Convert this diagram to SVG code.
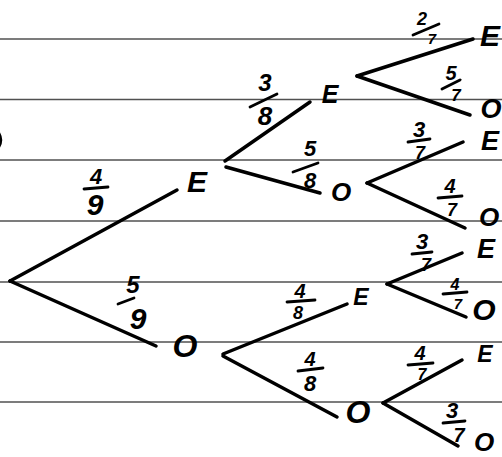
<svg xmlns="http://www.w3.org/2000/svg" width="502" height="457" viewBox="0 0 502 457">
<style>
.rule{stroke:#505050;stroke-width:1.3;fill:none}
.br{stroke:#000;stroke-width:3.5;stroke-linecap:round;fill:none}
.bar{stroke:#000;stroke-width:2.8;stroke-linecap:round;fill:none}
.n{font-family:"Liberation Sans",Arial,sans-serif;font-weight:bold;font-style:italic;fill:#000;text-anchor:middle}
.lb{font-family:"Liberation Sans",Arial,sans-serif;font-weight:bold;font-style:italic;fill:#000;text-anchor:middle}
</style>
<rect width="502" height="457" fill="#fff"/>
<g id="paper">
<line class="rule" x1="0" y1="39" x2="502" y2="39"/>
<line class="rule" x1="0" y1="99.5" x2="502" y2="99.5"/>
<line class="rule" x1="0" y1="160" x2="502" y2="160"/>
<line class="rule" x1="0" y1="221" x2="502" y2="221"/>
<line class="rule" x1="0" y1="282" x2="502" y2="282"/>
<line class="rule" x1="0" y1="342" x2="502" y2="342"/>
<line class="rule" x1="0" y1="402" x2="502" y2="402"/>
<path d="M-1,133 Q3,140 -1,147" stroke="#000" stroke-width="2.5" fill="none"/>
</g>
<g id="connectors">
<g id="e-root-E"><line class="br" x1="10" y1="281" x2="177" y2="190"/>
<text class="lb" x="96" y="184" font-size="22">4</text><line class="bar" x1="84" y1="189" x2="108" y2="187"/><text class="lb" x="95" y="215" font-size="30">9</text></g>
<g id="e-root-O"><line class="br" x1="10" y1="281" x2="156" y2="346"/>
<text class="lb" x="133" y="293" font-size="24">5</text><line class="bar" x1="118" y1="304" x2="134" y2="298"/><text class="lb" x="138" y="329" font-size="30">9</text></g>
<g id="e-E-EE"><line class="br" x1="225" y1="161" x2="310" y2="102"/>
<text class="lb" x="265" y="91" font-size="24">3</text><line class="bar" x1="250" y1="107" x2="277" y2="94"/><text class="lb" x="265" y="125" font-size="26">8</text></g>
<g id="e-E-EO"><line class="br" x1="226" y1="167" x2="320" y2="193"/>
<text class="lb" x="310" y="156" font-size="22">5</text><line class="bar" x1="293" y1="172" x2="318" y2="163"/><text class="lb" x="310" y="188" font-size="22">8</text></g>
<g id="e-EE-EEE"><line class="br" x1="357" y1="76" x2="473" y2="39"/>
<text class="lb" x="422" y="25" font-size="18">2</text><line class="bar" x1="413" y1="35" x2="439" y2="24"/><text class="lb" x="432" y="44" font-size="15">7</text></g>
<g id="e-EE-EEO"><line class="br" x1="357" y1="76" x2="470" y2="115"/>
<text class="lb" x="451" y="80" font-size="20">5</text><line class="bar" x1="442" y1="89" x2="460" y2="80"/><text class="lb" x="456" y="101" font-size="17">7</text></g>
<g id="e-EO-EOE"><line class="br" x1="367" y1="183" x2="463" y2="142"/>
<text class="lb" x="419" y="137" font-size="22">3</text><line class="bar" x1="408" y1="142" x2="430" y2="139"/><text class="lb" x="420" y="159" font-size="18">7</text></g>
<g id="e-EO-EOO"><line class="br" x1="367" y1="183" x2="465" y2="228"/>
<text class="lb" x="450" y="193" font-size="20">4</text><line class="bar" x1="438" y1="198" x2="462" y2="196"/><text class="lb" x="452" y="216" font-size="18">7</text></g>
<g id="e-O-OE"><line class="br" x1="223" y1="354" x2="347" y2="304"/>
<text class="lb" x="300" y="298" font-size="20">4</text><line class="bar" x1="287" y1="302" x2="315" y2="300"/><text class="lb" x="298" y="319" font-size="18">8</text></g>
<g id="e-O-OO"><line class="br" x1="223" y1="356" x2="337" y2="417"/>
<text class="lb" x="310" y="366" font-size="20">4</text><line class="bar" x1="298" y1="371" x2="323" y2="368"/><text class="lb" x="310" y="391" font-size="22">8</text></g>
<g id="e-OE-OEE"><line class="br" x1="387" y1="284" x2="462" y2="253"/>
<text class="lb" x="422" y="249" font-size="22">3</text><line class="bar" x1="412" y1="254" x2="432" y2="252"/><text class="lb" x="426" y="271" font-size="18">7</text></g>
<g id="e-OE-OEO"><line class="br" x1="387" y1="284" x2="466" y2="317"/>
<text class="lb" x="455" y="290" font-size="16">4</text><line class="bar" x1="443" y1="294" x2="467" y2="292"/><text class="lb" x="458" y="309" font-size="15">7</text></g>
<g id="e-OO-OOE"><line class="br" x1="383" y1="403" x2="462" y2="360"/>
<text class="lb" x="420" y="360" font-size="20">4</text><line class="bar" x1="408" y1="365" x2="433" y2="363"/><text class="lb" x="422" y="380" font-size="16">7</text></g>
<g id="e-OO-OOO"><line class="br" x1="383" y1="403" x2="458" y2="446"/>
<text class="lb" x="452" y="418" font-size="22">3</text><line class="bar" x1="443" y1="423" x2="465" y2="421"/><text class="lb" x="459" y="442" font-size="20">7</text></g>
</g>
<g id="node-root"><circle cx="10" cy="281" r="1.5" fill="#000"/></g>
<g id="node-E"><text class="n" x="197" y="192" font-size="30">E</text></g>
<g id="node-O"><text class="n" x="185" y="357" font-size="32">O</text></g>
<g id="node-EE"><text class="n" x="330" y="103" font-size="25">E</text></g>
<g id="node-EO"><text class="n" x="341" y="201" font-size="26">O</text></g>
<g id="node-EEE"><text class="n" x="490" y="46" font-size="30">E</text></g>
<g id="node-EEO"><text class="n" x="491" y="118" font-size="27">O</text></g>
<g id="node-EOE"><text class="n" x="490" y="150" font-size="27">E</text></g>
<g id="node-EOO"><text class="n" x="489" y="226" font-size="26">O</text></g>
<g id="node-OE"><text class="n" x="361" y="305" font-size="23">E</text></g>
<g id="node-OO"><text class="n" x="358" y="423" font-size="32">O</text></g>
<g id="node-OEE"><text class="n" x="486" y="258" font-size="27">E</text></g>
<g id="node-OEO"><text class="n" x="484" y="320" font-size="30">O</text></g>
<g id="node-OOE"><text class="n" x="485" y="362" font-size="23">E</text></g>
<g id="node-OOO"><text class="n" x="484" y="451" font-size="26">O</text></g>
</svg>
